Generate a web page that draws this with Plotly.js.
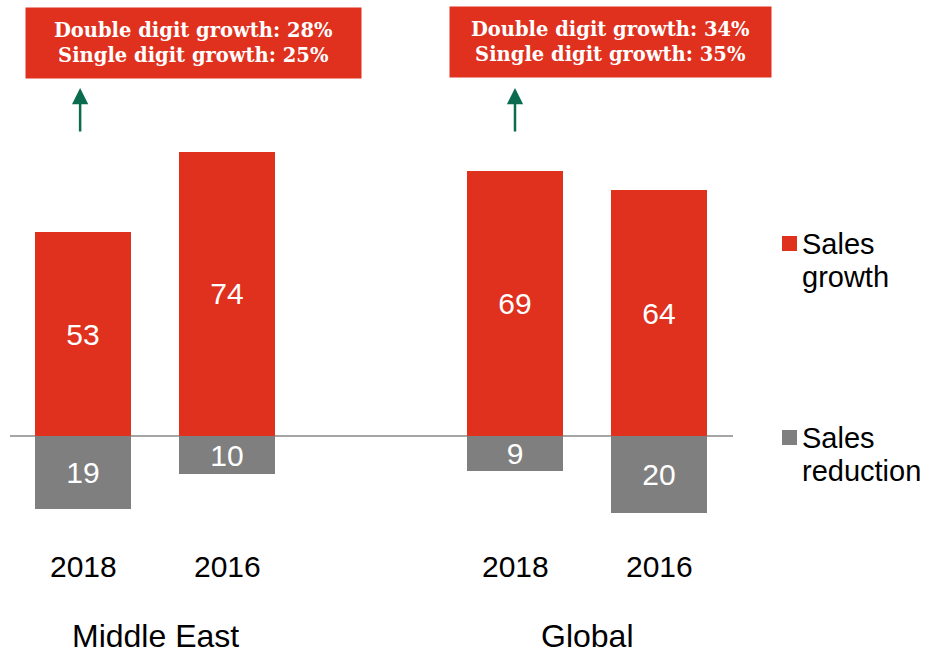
<!DOCTYPE html>
<html>
<head>
<meta charset="utf-8">
<script src="https://cdn.plot.ly/plotly-3.0.1.min.js"></script>
<style>html,body{margin:0;padding:0;background:#fff;}#chart{width:925px;height:654px;}</style>
</head>
<body>
<div id="chart"></div>
<script>
// ---- data ----
var positions = [0, 1, 3, 4];
var years = ['2018', '2016', '2018', '2016'];
var groups = ['Middle East', 'Global'];
var groupCenters = [0.5, 3.5];
var salesGrowth = [53, 74, 69, 64];
var salesReduction = [19, 10, 9, 20];
var seriesNames = ['Sales growth', 'Sales reduction'];
var boxLines = [
  ['Double digit growth: 28%', 'Single digit growth: 25%'],
  ['Double digit growth: 34%', 'Single digit growth: 35%']
];

var RED = '#E0301E', GRAY = '#7F7F7F', GREEN = '#0A6B4F';
var sans = 'Liberation Sans, Arial, sans-serif';

var traces = [
  {
    type: 'bar', name: seriesNames[0], x: positions, y: salesGrowth,
    text: salesGrowth.map(String), textposition: 'inside', insidetextanchor: 'middle',
    constraintext: 'none', textangle: 0,
    textfont: {family: sans, size: 30, color: '#ffffff'},
    marker: {color: RED}, width: 0.667, hoverinfo: 'skip'
  },
  {
    type: 'bar', name: seriesNames[1], x: positions, y: salesReduction.map(function(v){return -v;}),
    text: salesReduction.map(String), textposition: 'inside', insidetextanchor: 'middle',
    constraintext: 'none', textangle: 0,
    textfont: {family: sans, size: 30, color: '#ffffff'},
    marker: {color: GRAY}, width: 0.667, hoverinfo: 'skip'
  }
];

var PX = 3.84; // px per unit
var plotBottom = 530, zeroPx = 436;
function paperY(px){ return (plotBottom - px) / plotBottom; }

var annotations = [];
positions.forEach(function(p, i){
  annotations.push({xref:'x', yref:'paper', x:p, y:paperY(566), text:years[i], showarrow:false,
    xanchor:'center', yanchor:'middle', font:{family:sans, size:30, color:'#000'}});
});
groups.forEach(function(g, i){
  annotations.push({xref:'x', yref:'paper', x:groupCenters[i], y:paperY(636), text:g, showarrow:false,
    xanchor:'center', yanchor:'middle', font:{family:sans, size:32, color:'#000'}});
});
// boxes
var boxX = [0.767, 3.663], boxY = [43, 42], boxW = [335, 321];
boxLines.forEach(function(lines, i){
  annotations.push({xref:'x', yref:'paper', x:boxX[i], y:paperY(boxY[i]), text:'<b>'+lines.join('<br>')+'</b>',
    showarrow:false, xanchor:'center', yanchor:'middle', bgcolor:RED, width:boxW[i]-2, height:68,
    align:'center', valign:'middle', borderpad:1,
    font:{family:'DejaVu Serif, Georgia, serif', size:19.5, color:'#ffffff'}});
});
// arrows
var arrowX = [-0.02, 3.0];
arrowX.forEach(function(ax){
  annotations.push({xref:'x', yref:'paper', x:ax, y:paperY(88), text:'', showarrow:true,
    ax:0, ay:45, arrowhead:2, arrowsize:1.3, arrowwidth:2.5, arrowcolor:GREEN, standoff:0});
});
// legend (manual)
var legendColors = [RED, GRAY];
var legendTop = [236, 430];
var legendLines = [['Sales', 'growth'], ['Sales', 'reduction']];
var shapes = [];
legendLines.forEach(function(lines, i){
  shapes.push({type:'rect', xref:'paper', yref:'paper',
    x0:(782-10)/723, x1:(797-10)/723, y0:paperY(legendTop[i]+15), y1:paperY(legendTop[i]),
    fillcolor:legendColors[i], line:{width:0}});
  lines.forEach(function(t, j){
    annotations.push({xref:'paper', yref:'paper', x:(800-10)/723, y:paperY(legendTop[i]+8+33*j), text:t,
      showarrow:false, xanchor:'left', yanchor:'middle', font:{family:sans, size:29, color:'#000'}});
  });
});

var r0 = -(83-10)/144;
var layout = {
  width: 925, height: 654,
  margin: {l:10, r:192, t:0, b:654-plotBottom},
  paper_bgcolor:'#ffffff', plot_bgcolor:'#ffffff',
  barmode: 'relative', bargap: 0,
  showlegend: false,
  xaxis: {range:[r0, r0 + 723/144], showgrid:false, zeroline:false, showticklabels:false, ticks:'', fixedrange:true},
  yaxis: {range:[-(plotBottom-zeroPx)/PX, zeroPx/PX], showgrid:false, zeroline:true, zerolinecolor:'#A6A6A6', zerolinewidth:2,
    showticklabels:false, ticks:'', fixedrange:true},
  annotations: annotations,
  shapes: shapes
};

Plotly.newPlot('chart', traces, layout, {displayModeBar:false, staticPlot:true});
</script>
</body>
</html>
